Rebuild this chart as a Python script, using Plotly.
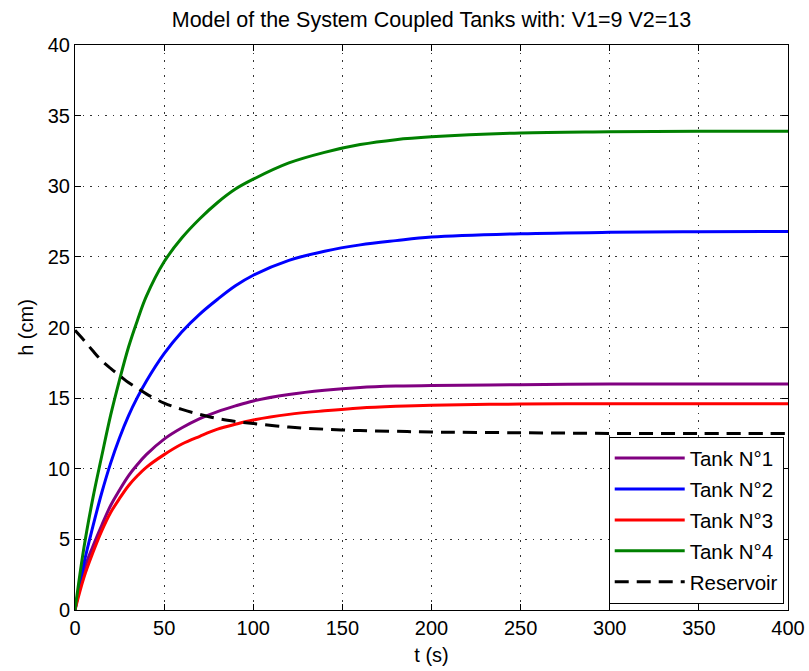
import plotly.graph_objects as go

# time grid (s)
t = [0, 5, 10, 15, 20, 25, 30, 35, 40, 50, 60, 70, 80, 90, 100, 120, 140, 160, 180, 200, 250, 300, 350, 400]

tank1 = [0, 2.8, 4.5, 6.0, 7.4, 8.5, 9.5, 10.3, 11.0, 12.1, 12.9, 13.55, 14.05, 14.45, 14.8, 15.25, 15.55, 15.75, 15.85, 15.9, 15.95, 16.0, 16.0, 16.0]
tank2 = [0, 3.3, 5.9, 8.3, 10.4, 12.2, 13.75, 15.05, 16.2, 18.15, 19.7, 20.95, 22.0, 22.95, 23.7, 24.75, 25.4, 25.85, 26.15, 26.4, 26.64, 26.74, 26.78, 26.8]
tank3 = [0, 2.3, 4.05, 5.6, 6.9, 7.9, 8.8, 9.5, 10.1, 11.0, 11.75, 12.3, 12.8, 13.15, 13.45, 13.85, 14.1, 14.3, 14.42, 14.5, 14.58, 14.6, 14.6, 14.6]
tank4 = [0, 4.4, 7.9, 10.9, 13.8, 16.3, 18.6, 20.5, 22.2, 24.65, 26.35, 27.7, 28.85, 29.8, 30.5, 31.65, 32.4, 32.95, 33.3, 33.5, 33.77, 33.85, 33.9, 33.9]
reservoir = [19.8, 19.1, 18.35, 17.65, 17.1, 16.6, 16.1, 15.7, 15.3, 14.65, 14.2, 13.85, 13.55, 13.35, 13.2, 12.95, 12.8, 12.7, 12.65, 12.6, 12.55, 12.5, 12.5, 12.5]

names = ["Tank N°1", "Tank N°2", "Tank N°3", "Tank N°4", "Reservoir"]
series = [tank1, tank2, tank3, tank4, reservoir]
colors = ["#800080", "#0000FF", "#FF0000", "#008000", "#000000"]
dashes = ["solid", "solid", "solid", "solid", "14px,8px"]

x_ticks = [0, 50, 100, 150, 200, 250, 300, 350, 400]
y_ticks = [0, 5, 10, 15, 20, 25, 30, 35, 40]

FONT = "Liberation Sans, Arial, sans-serif"

fig = go.Figure()
for n, s, c, d in zip(names, series, colors, dashes):
    fig.add_trace(go.Scatter(
        x=t, y=s, mode="lines", line_shape="spline",
        name='<span style="font-size:20.5px">' + n + '</span>',
        line=dict(color=c, width=3, dash=d),
    ))

axis_common = dict(
    showline=True, linecolor="black", linewidth=1, mirror="allticks",
    ticks="inside", ticklen=6, tickcolor="black", tickwidth=1,
    showgrid=True, gridcolor="#333333", gridwidth=1, griddash="1.5px,6px",
    zeroline=False, automargin=False,
    tickfont=dict(family=FONT, size=20, color="black"),
)

fig.update_layout(
    width=809, height=671,
    margin=dict(l=75, r=21, t=45, b=61),
    paper_bgcolor="white", plot_bgcolor="white",
    title=dict(text="Model of the System Coupled Tanks with: V1=9 V2=13",
               x=(75 + 788) / 2 / 809, xanchor="center", xref="container",
               y=1 - 19 / 671, yanchor="middle", yref="container",
               font=dict(family=FONT, size=21.5, color="black")),
    xaxis=dict(axis_common, range=[0, 400], tickvals=x_ticks,
               title=dict(text="t (s)", standoff=9, font=dict(family=FONT, size=20, color="black"))),
    yaxis=dict(axis_common, range=[0, 40], tickvals=y_ticks,
               title=dict(text="h (cm)", standoff=8, font=dict(family=FONT, size=20, color="black"))),
    legend=dict(x=0.994, xanchor="right", y=0.0115, yanchor="bottom",
                bordercolor="black", borderwidth=1, bgcolor="white",
                font=dict(family=FONT, size=21.5, color="black"),
                itemwidth=70, tracegroupgap=0),
    showlegend=True,
)

fig.write_html("out.html",
               config={"displayModeBar": False},
               post_script="document.body.style.margin='0';document.body.style.overflow='hidden';")
